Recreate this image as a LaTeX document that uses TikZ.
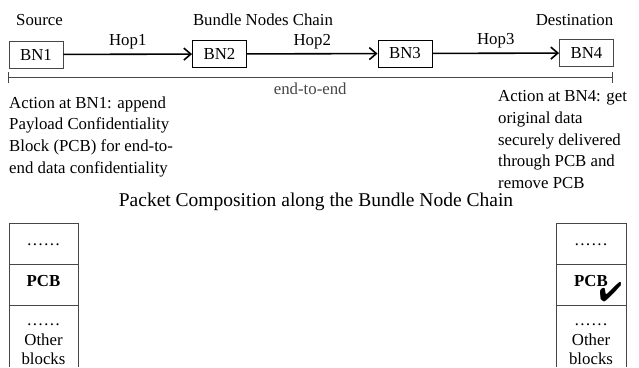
\documentclass[tikz,border=0pt]{standalone}
\usepackage{fontspec}
\setmainfont{Liberation Serif}
\usepackage{pifont}
\usetikzlibrary{arrows.meta}
\definecolor{G}{RGB}{70, 70, 70}

\tikzset{
  bn/.style={draw, line width=0.9pt, minimum width=54pt, minimum height=27pt, inner sep=0pt},
  hop/.style={line width=1.6pt, -{Straight Barb[length=7pt, width=12pt, line width=1.6pt]}},
  txt/.style={inner sep=0pt, font=\fontsize{16.8}{21.6}\selectfont}
}

\begin{document}
\begin{tikzpicture}[x=1pt, y=-1pt, txt]
	\useasboundingbox (0,0) rectangle (639,367);

	% Etiquetas de arriba
	\node[anchor=base] (src) at (39.5,25) {Source};
	\node[anchor=base] (chain) at (263,25) {Bundle Nodes Chain};
	\node[anchor=base] (dst) at (574.5,25) {Destination};

	% Nodos de la cadena
	\node[bn, draw=G] (bn1) at (36,54.5) {BN1};
	\node[bn] (bn2) at (219.5,54) {BN2};
	\node[bn] (bn3) at (405,53.5) {BN3};
	\node[bn, draw=G] (bn4) at (586.5,53) {BN4};

	% Saltos
	\draw[hop] (bn1) -- node[above=4pt] (hop1) {Hop1} (bn2);
	\draw[hop] (bn2) -- node[above=4pt] (hop2) {Hop2} (bn3);
	\draw[hop] (bn3) -- node[above=4pt] (hop3) {Hop3} (bn4);

	% Extremo a extremo
	\coordinate (e1) at (8,77.5);
	\coordinate (e2) at (612.5,77.5);
	\draw[G, line width=0.9pt, {Bar[width=11pt]}-{Bar[width=11pt]}] (e1) -- node[below=5pt] (e2e) {end-to-end} (e2);

	% Acciones
	\node[anchor=north west, align=left] (act1) at (9,96.5) {Action at BN1: append\\Payload Confidentiality\\Block (PCB) for end-to-\\end data confidentiality};
	\node[anchor=north west, align=left] (act4) at (498,90.5) {Action at BN4: get\\original data\\securely delivered\\through PCB and\\remove PCB};

	% Titulo de abajo
	\node[anchor=base, font=\fontsize{19.5}{22}\selectfont] (title) at (316,206) {Packet Composition along the Bundle Node Chain};

	% Pila izquierda
	\draw[G, line width=0.9pt] (9,367) -- (9,223) -- (78,223) -- (78,367);
	\draw[G, line width=0.9pt] (9,264) -- (78,264);
	\draw[G, line width=0.9pt] (9,305) -- (78,305);
	\node[anchor=base] (l1) at (43.5,245) {……};
	\node[anchor=base] (l2) at (43.5,286) {\textbf{PCB}};
	\node[anchor=base] (l3) at (43.5,325.5) {……};
	\node[anchor=base] (l4) at (43.5,345) {Other};
	\node[anchor=base] (l5) at (43.5,364.5) {blocks};

	% Pila derecha
	\draw[G, line width=0.9pt] (556,367) -- (556,223) -- (626,223) -- (626,367);
	\draw[G, line width=0.9pt] (556,264) -- (626,264);
	\draw[G, line width=0.9pt] (556,305) -- (626,305);
	\node[anchor=base] (r1) at (591,245) {……};
	\node[anchor=base] (r2) at (591,286) {\textbf{PCB}};
	\node[anchor=base] (r3) at (591,325.5) {……};
	\node[anchor=base] (r4) at (591,345) {Other};
	\node[anchor=base] (r5) at (591,364.5) {blocks};
	\node[font=\fontsize{27}{27}\selectfont] (chk) at (610.5,292.5) {\ding{52}};
\end{tikzpicture}
\end{document}
